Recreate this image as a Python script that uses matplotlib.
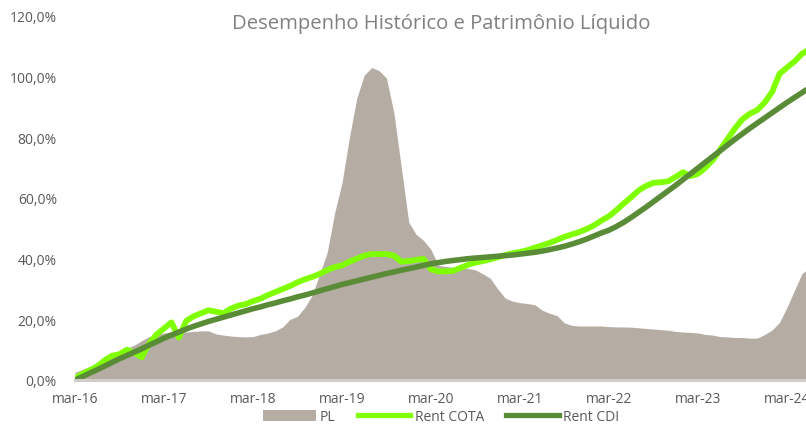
import matplotlib
matplotlib.use("Agg")
import matplotlib.pyplot as plt
import matplotlib.ticker as mticker
from matplotlib.patches import Patch
from matplotlib.lines import Line2D
import numpy as np

plt.rcParams['font.family'] = ['Open Sans', 'DejaVu Sans']

# Monthly observations, starting March 2016
pl = [2.5, 3.5, 4.5, 5.5, 7.0, 8.5, 9.5, 10.5, 11.5, 13.0,
      14.3, 15.0, 15.5, 15.8, 15.8, 15.8, 16.0, 16.2, 16.2, 15.2,
      14.8, 14.5, 14.3, 14.2, 14.3, 15.0, 15.5, 16.2, 17.5, 20.0,
      21.0, 24.0, 28.0, 35.0, 42.0, 55.0, 65.0, 80.0, 93.0, 100.5,
      103.0, 102.0, 99.5, 88.0, 70.0, 52.0, 48.0, 46.0, 43.0, 37.8,
      37.4, 37.2, 37.0, 36.8, 36.3, 35.0, 33.5, 30.0, 27.0, 26.0,
      25.5, 25.2, 24.8, 23.0, 22.0, 21.2, 18.8, 18.0, 17.8, 17.8,
      17.8, 17.8, 17.6, 17.5, 17.5, 17.4, 17.2, 17.0, 16.8, 16.6,
      16.4, 16.0, 15.8, 15.7, 15.5, 15.0, 14.8, 14.3, 14.2, 14.0,
      14.0, 13.8, 13.8, 15.0, 16.5, 19.0, 24.0, 29.5, 35.0, 37.0]

rent_cota = [0.5, 2.0, 3.2, 4.5, 6.5, 8.0, 8.5, 10.0, 9.0, 7.5,
             12.0, 15.0, 17.0, 19.0, 14.0, 19.5, 21.0, 22.0, 23.0, 22.5,
             22.0, 23.5, 24.5, 25.0, 26.0, 26.8, 28.0, 29.0, 30.0, 31.0,
             32.2, 33.2, 34.0, 35.0, 36.2, 37.2, 37.8, 39.0, 40.0, 41.0,
             41.5, 41.5, 41.5, 41.0, 39.0, 39.2, 39.6, 39.9, 36.5, 35.8,
             35.8, 36.0, 37.0, 38.0, 38.7, 39.2, 39.8, 40.5, 41.2, 41.8,
             42.2, 42.8, 43.6, 44.4, 45.2, 46.2, 47.2, 48.0, 48.8, 49.8,
             51.0, 52.6, 54.0, 56.0, 58.2, 60.3, 62.5, 64.0, 65.0, 65.2,
             65.5, 67.0, 68.5, 67.2, 68.0, 70.0, 72.5, 76.0, 79.5, 83.0,
             86.0, 87.8, 89.0, 91.5, 95.0, 101.0, 103.0, 105.0, 107.5, 109.0]

rent_cdi = [0.0, 1.1, 2.3, 3.4, 4.6, 5.8, 7.0, 8.1, 9.2, 10.3,
            11.5, 12.6, 13.8, 14.8, 15.8, 16.8, 17.7, 18.5, 19.3, 20.0,
            20.7, 21.4, 22.1, 22.8, 23.5, 24.1, 24.8, 25.4, 26.1, 26.7,
            27.4, 28.0, 28.7, 29.4, 30.1, 30.8, 31.5, 32.1, 32.7, 33.3,
            33.9, 34.5, 35.1, 35.6, 36.2, 36.7, 37.2, 37.8, 38.3, 38.7,
            39.1, 39.4, 39.7, 40.0, 40.2, 40.4, 40.6, 40.8, 41.0, 41.2,
            41.5, 41.8, 42.1, 42.5, 43.0, 43.5, 44.1, 44.8, 45.6, 46.5,
            47.5, 48.5, 49.4, 50.6, 52.0, 53.6, 55.3, 57.0, 58.8, 60.6,
            62.4, 64.2, 66.1, 68.0, 69.9, 71.8, 73.7, 75.6, 77.5, 79.4,
            81.2, 83.0, 84.7, 86.4, 88.1, 89.8, 91.5, 93.1, 94.7, 96.3]

tick_labels = ['mar-16', 'mar-17', 'mar-18', 'mar-19', 'mar-20',
               'mar-21', 'mar-22', 'mar-23', 'mar-24']
y_ticks = [0, 20, 40, 60, 80, 100, 120]

title = 'Desempenho Histórico e Patrimônio Líquido'

months = np.arange(len(pl))
text_color = '#595959'
c_pl = '#b5aca4'
c_cota = '#80ff00'
c_cdi = '#5a8c38'

fig = plt.figure(figsize=(8.06, 4.27), dpi=100)
ax = fig.add_axes([75 / 806, 1 - 381 / 427, 1 - 75 / 806, (381 - 17) / 427])

ax.fill_between(months, 0, pl, color=c_pl, linewidth=0, zorder=1)
ax.plot(months, rent_cota, color=c_cota, lw=4.2, solid_capstyle='round',
        solid_joinstyle='round', zorder=3)
ax.plot(months, rent_cdi, color=c_cdi, lw=4.0, solid_capstyle='butt', zorder=4)

ax.set_xlim(0, (806 - 75) / (89 / 12))
ax.set_ylim(0, 120)
ax.set_yticks(y_ticks)
ax.yaxis.set_major_formatter(mticker.FuncFormatter(
    lambda v, p: f'{v:.1f}%'.replace('.', ',')))
ax.set_xticks(np.arange(len(tick_labels)) * 12)
ax.set_xticklabels(tick_labels)
ax.tick_params(axis='both', length=0, labelsize=10, labelcolor=text_color)
ax.tick_params(axis='x', pad=8)
ax.tick_params(axis='y', pad=13)
for s in ['top', 'right', 'left']:
    ax.spines[s].set_visible(False)
ax.spines['bottom'].set_color('#d0ccc8')
ax.spines['bottom'].set_linewidth(2.2)
ax.spines['bottom'].set_zorder(5)

fig.text(441 / 806, 1 - 24 / 427, title, ha='center', va='center',
         fontsize=14.6, color='#808080')

handles = [Patch(facecolor=c_pl, edgecolor='none', label='PL'),
           Line2D([], [], color=c_cota, lw=3.8, label='Rent COTA'),
           Line2D([], [], color=c_cdi, lw=3.8, label='Rent CDI')]
leg = fig.legend(handles=handles, loc='center', bbox_to_anchor=(441 / 806, 1 - 418 / 427),
                 ncol=3, frameon=False, fontsize=10, handlelength=3.8,
                 handleheight=0.9, columnspacing=1.6, handletextpad=0.3)
for t in leg.get_texts():
    t.set_color(text_color)

fig.savefig('out.png', dpi=100)
